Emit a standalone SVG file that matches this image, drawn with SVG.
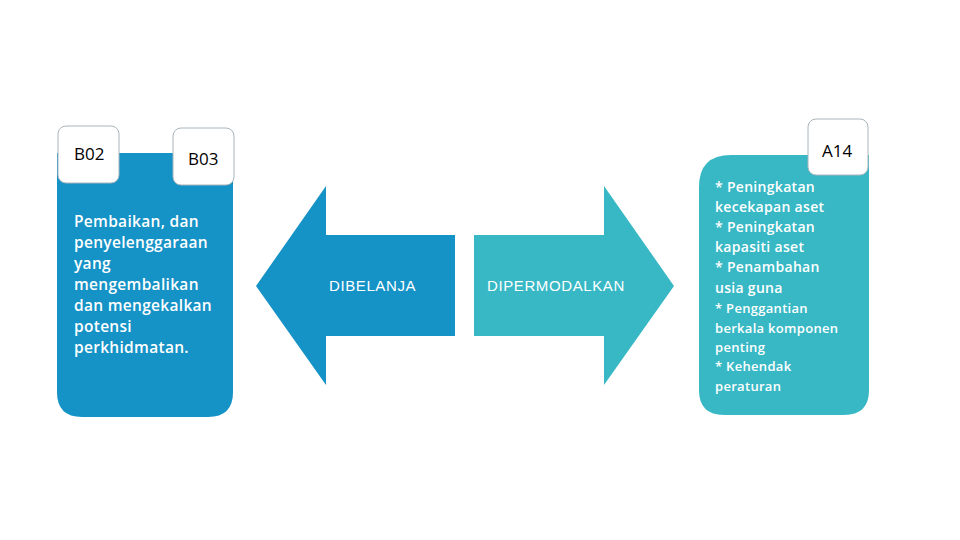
<svg xmlns="http://www.w3.org/2000/svg" width="960" height="540" viewBox="0 0 960 540">
<style>
.card{fill:#fff;stroke:#a9b4bb;stroke-width:1}
.lbl{font-family:"Open Sans","Lato",sans-serif;font-size:17px;fill:#000}
.body{font-family:"Open Sans","Lato",sans-serif;fill:#fff;font-weight:600}
.arr{font-family:"Liberation Sans",Arial,sans-serif;font-size:15px;letter-spacing:0.6px;fill:#fff}
.blue{fill:#1592c6}
.teal{fill:#38b8c5}
</style>
<rect width="960" height="540" fill="#fff"/>
<g id="box-left">
<path class="blue" d="M57 153 H233 V392 Q233 417 208 417 H82 Q57 417 57 392 Z"/>
<g class="body" font-size="15.5" letter-spacing="0.3">
<text x="74" y="227">Pembaikan, dan</text>
<text x="74" y="248">penyelenggaraan</text>
<text x="74" y="269">yang</text>
<text x="74" y="290">mengembalikan</text>
<text x="74" y="311">dan mengekalkan</text>
<text x="74" y="332">potensi</text>
<text x="74" y="353">perkhidmatan.</text>
</g>
</g>
<g id="card-b02">
<rect class="card" x="58" y="126" width="61" height="57" rx="8"/>
<text class="lbl" x="74" y="160">B02</text>
</g>
<g id="card-b03">
<rect class="card" x="173" y="128" width="61" height="57" rx="8"/>
<text class="lbl" x="188" y="165">B03</text>
</g>
<g id="arrow-left">
<polygon class="blue" points="256,286 326,186 326,235 455,235 455,336 326,336 326,385"/>
<text class="arr" x="329" y="291">DIBELANJA</text>
</g>
<g id="arrow-right">
<polygon class="teal" points="674,286 604,186 604,235 474,235 474,336 604,336 604,385"/>
<text class="arr" x="487" y="291">DIPERMODALKAN</text>
</g>
<g id="box-right">
<path class="teal" d="M731 155 H869 V390 Q869 415 844 415 H724 Q699 415 699 390 V187 Q699 155 731 155 Z"/>
<g class="body" letter-spacing="0.3">
<text font-size="14" x="715" y="192">* Peningkatan</text>
<text font-size="14" x="715" y="212">kecekapan aset</text>
<text font-size="14" x="715" y="232">* Peningkatan</text>
<text font-size="14" x="715" y="252">kapasiti aset</text>
<text font-size="14" x="715" y="272">* Penambahan</text>
<text font-size="14" x="715" y="293">usia guna</text>
<text font-size="13" x="715" y="313">* Penggantian</text>
<text font-size="13" x="715" y="333">berkala komponen</text>
<text font-size="13" x="715" y="352">penting</text>
<text font-size="13" x="715" y="371">* Kehendak</text>
<text font-size="13" x="715" y="391">peraturan</text>
</g>
</g>
<g id="card-a14">
<rect class="card" x="808" y="119" width="60" height="56" rx="8"/>
<text class="lbl" x="822" y="157">A14</text>
</g>
<g id="connectors"></g>
</svg>
